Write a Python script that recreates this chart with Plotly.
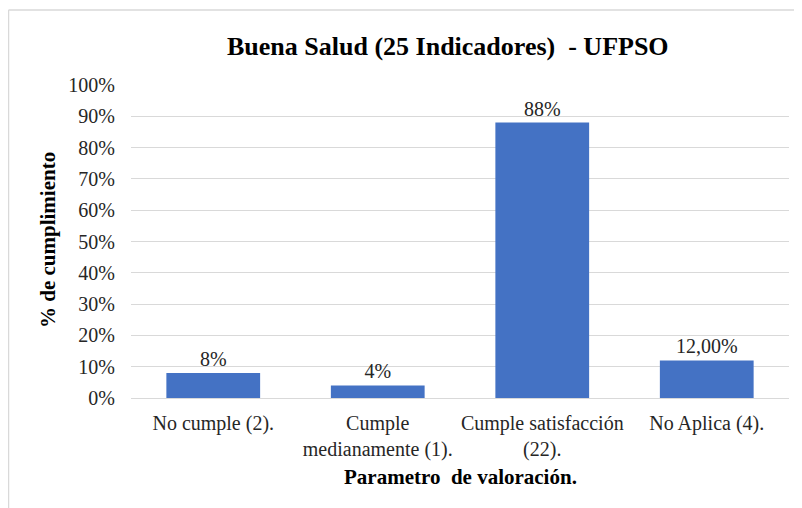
import plotly.graph_objects as go

categories = ["No cumple (2).", "Cumple<br>medianamente (1).", "Cumple satisfacción<br>(22).", "No Aplica (4)."]
values = [0.08, 0.04, 0.88, 0.12]
value_labels = ["8%", "4%", "88%", "12,00%"]
y_ticks = [0, 0.1, 0.2, 0.3, 0.4, 0.5, 0.6, 0.7, 0.8, 0.9, 1.0]
y_tick_labels = ["0%", "10%", "20%", "30%", "40%", "50%", "60%", "70%", "80%", "90%", "100%"]

OFF = 8  # page body margin
W, H = 802 - OFF, 508 - OFF
L, R, T, B = 123, 13, 77, 110
pw, ph = W - L - R, H - T - B

def px(x):
    return (x - OFF - L) / pw

def py(y):
    return (H - B - (y - OFF)) / ph

FONT = "Liberation Serif"
TXT = "#262626"

fig = go.Figure(go.Bar(
    x=categories, y=values, text=value_labels, textposition="outside",
    textfont=dict(family=FONT, size=20, color=TXT),
    marker=dict(color="#4472C4", line=dict(width=0)),
    width=0.57, cliponaxis=False,
))

fig.update_layout(
    width=W, height=H,
    margin=dict(l=L, r=R, t=T, b=B),
    paper_bgcolor="white", plot_bgcolor="white",
    showlegend=False,
    font=dict(family=FONT, color=TXT),
    xaxis=dict(showgrid=False, showline=True, linecolor="#D9D9D9", linewidth=1,
               tickfont=dict(family=FONT, size=20, color=TXT), ticks="outside",
               ticklen=7, tickcolor="rgba(0,0,0,0)"),
    yaxis=dict(range=[0, 1.0], tickvals=y_ticks, ticktext=y_tick_labels,
               showgrid=True, gridcolor="#D9D9D9", gridwidth=1, zeroline=False,
               tickfont=dict(family=FONT, size=20, color=TXT), ticks="outside",
               ticklen=11, tickcolor="rgba(0,0,0,0)"),
)

fig.add_annotation(text="<b>Buena Salud (25 Indicadores)  - UFPSO</b>", xref="paper", yref="paper",
                   x=px(448), y=py(46), showarrow=False, xanchor="center", yanchor="middle",
                   font=dict(family=FONT, size=26, color="#000000"))
fig.add_annotation(text="<b>% de cumplimiento</b>", xref="paper", yref="paper",
                   x=px(48), y=py(240), showarrow=False, textangle=-90, xanchor="center", yanchor="middle",
                   font=dict(family=FONT, size=21, color="#000000"))
fig.add_annotation(text="<b>Parametro  de valoración.</b>", xref="paper", yref="paper",
                   x=px(460), y=py(477), showarrow=False, xanchor="center", yanchor="middle",
                   font=dict(family=FONT, size=21, color="#000000"))

fig.add_shape(type="line", xref="paper", yref="paper", x0=px(8.5), x1=px(8.5), y0=py(10), y1=py(530),
              line=dict(color="#D9D9D9", width=1.5))
fig.add_shape(type="line", xref="paper", yref="paper", x0=px(8.5), x1=px(830), y0=py(10), y1=py(10),
              line=dict(color="#D9D9D9", width=1.5))

fig.write_html("out.html")
